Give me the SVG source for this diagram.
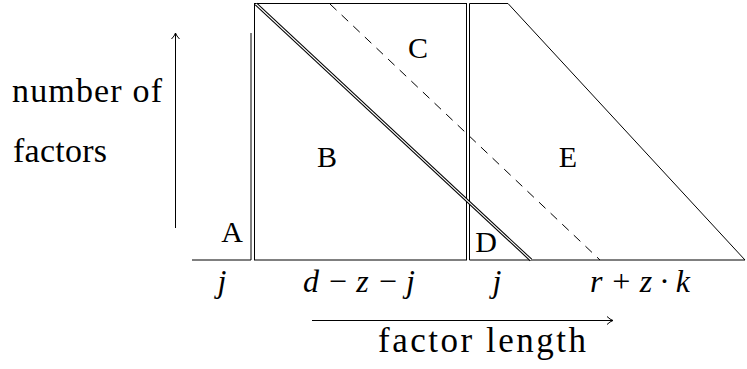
<svg xmlns="http://www.w3.org/2000/svg" width="747" height="369" viewBox="0 0 747 369">
<style>
.ln{stroke:#000;stroke-width:1;fill:none}
.dbl{stroke:#000;stroke-width:3.2;fill:none}
.dblw{stroke:#fff;stroke-width:1.1;fill:none}
.dash{stroke:#000;stroke-width:1;fill:none;stroke-dasharray:9 7}
.t{font-family:"Liberation Serif","DejaVu Serif",serif;font-size:30px;fill:#000}
.w{font-family:"Liberation Serif","DejaVu Serif",serif;font-size:34px;fill:#000}
.f{font-family:"Liberation Serif","DejaVu Serif",serif;font-size:35px;fill:#000}
.m{font-family:"Liberation Serif","DejaVu Serif",serif;font-size:32px;font-style:italic;fill:#000}
</style>
<defs>
<marker id="ah" markerWidth="10" markerHeight="10" refX="8" refY="5" orient="auto" markerUnits="userSpaceOnUse">
<path d="M2,1 Q5,4 8,5 Q5,6 2,9" fill="none" stroke="#000" stroke-width="1"/>
</marker>
</defs>
<g id="connectors">
<line class="ln" x1="175.5" y1="228" x2="175.5" y2="33" marker-end="url(#ah)"/>
<line class="ln" x1="312" y1="320.5" x2="613" y2="320.5" marker-end="url(#ah)"/>
</g>
<g id="A">
<polyline class="ln" points="192,260 251,260 251,33"/>
<text class="t" x="232" y="242" text-anchor="middle">A</text>
</g>
<g id="B">
<rect class="ln" x="254.5" y="3.5" width="212" height="256.5"/>
<text class="t" x="327" y="167" text-anchor="middle">B</text>
</g>
<g id="C">
<line class="dash" x1="330" y1="4" x2="600" y2="260"/>
<text class="t" x="418" y="58" text-anchor="middle">C</text>
</g>
<g id="E">
<polyline class="ln" points="469.5,260 469.5,3.5 508,3.5 745,260"/>
<line class="ln" x1="469.5" y1="260" x2="745" y2="260"/>
<text class="t" x="568" y="167" text-anchor="middle">E</text>
</g>
<g id="D">
<line class="dbl" x1="256" y1="4" x2="531" y2="260"/>
<line class="dblw" x1="256" y1="4" x2="531" y2="260"/>
<text class="t" x="486" y="252" text-anchor="middle">D</text>
</g>
<g id="labels">
<text class="w" x="12" y="102" textLength="150" lengthAdjust="spacing">number of</text>
<text class="w" x="13" y="162" textLength="94" lengthAdjust="spacing">factors</text>
<text class="m" x="222" y="292" text-anchor="middle">j</text>
<text class="m" x="303" y="292" textLength="112" lengthAdjust="spacing">d − z − j</text>
<text class="m" x="497" y="292" text-anchor="middle">j</text>
<text class="m" x="590" y="292" textLength="100" lengthAdjust="spacing">r + z · k</text>
<text class="f" x="378" y="352" textLength="208" lengthAdjust="spacing">factor length</text>
</g>
</svg>
